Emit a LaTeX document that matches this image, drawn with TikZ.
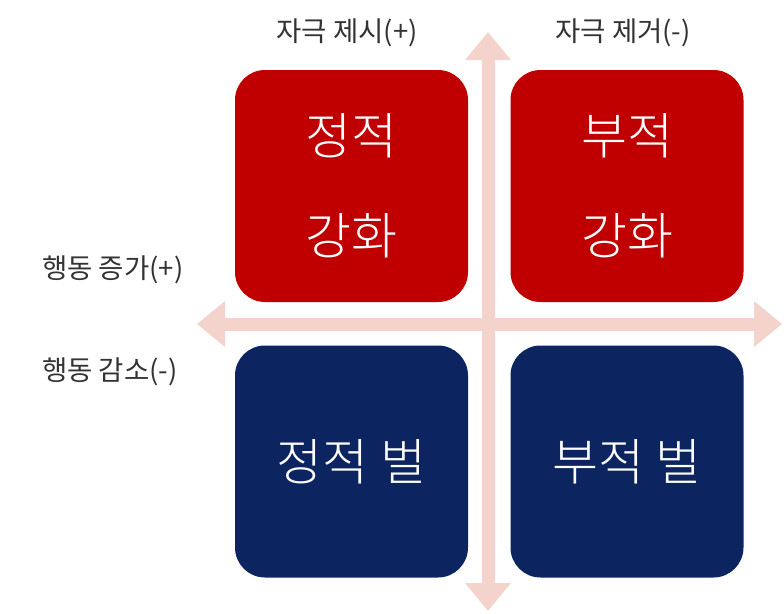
\documentclass[tikz,border=0pt]{standalone}
\usepackage{fontspec}
\usetikzlibrary{arrows.meta}
\newfontfamily\kr{Noto Sans CJK KR}
\newfontfamily\krl{Noto Sans CJK KR Light}
\definecolor{boxred}{RGB}{192,0,0}
\definecolor{boxnavy}{RGB}{12,37,96}
\definecolor{axispink}{RGB}{243,211,203}
\definecolor{labelgray}{RGB}{51,51,51}
\begin{document}
\begin{tikzpicture}[x=1pt,y=-1pt,
  quad/.style={rounded corners=30pt,minimum width=233pt,minimum height=232pt,inner sep=0pt,
    text=white,align=center,font=\krl\fontsize{50}{100}\selectfont},
  redquad/.style={quad,fill=boxred},
  navyquad/.style={quad,fill=boxnavy},
  axis/.style={draw=axispink,line width=13pt,
    {Triangle[width=44pt,length=28pt]}-{Triangle[width=44pt,length=28pt]}},
  lbl/.style={text=labelgray,font=\kr\fontsize{27.5}{30}\selectfont,inner sep=0pt}]
\useasboundingbox (0,0) rectangle (784,613);
\fill[white] (0,0) rectangle (784,613);
\coordinate (vt) at (488,32);
\coordinate (vb) at (488,611);
\coordinate (hl) at (197,324);
\coordinate (hr) at (782,324);
\draw[axis] (vt) -- (vb);
\draw[axis] (hl) -- (hr);
\node[redquad] (pr) at (351.5,186) {정적\\강화};
\node[redquad] (nr) at (627,186) {부적\\강화};
\node[navyquad] (pp) at (351.5,461.5) {정적 벌};
\node[navyquad] (np) at (627,461.5) {부적 벌};
\node[lbl] (sp) at (347,33) {자극 제시(+)};
\node[lbl] (sr) at (623,33) {자극 제거(-)};
\node[lbl,anchor=west] (bi) at (42,270) {행동 증가(+)};
\node[lbl,anchor=west] (bd) at (42,372) {행동 감소(-)};
\end{tikzpicture}
\end{document}
